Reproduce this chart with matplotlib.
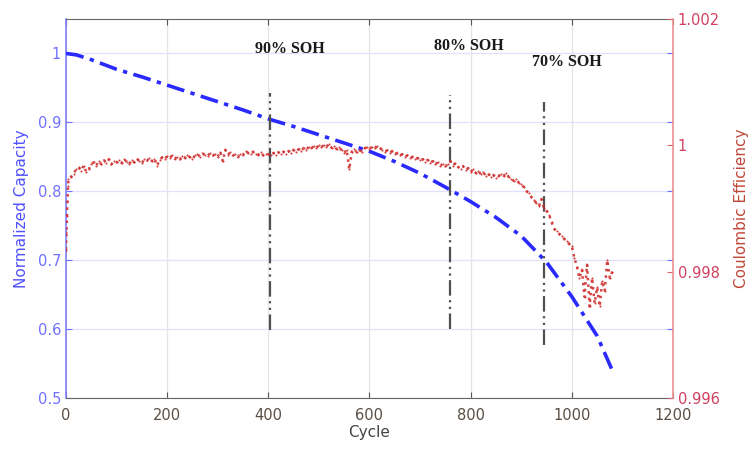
import numpy as np
import matplotlib
matplotlib.use("Agg")
import matplotlib.pyplot as plt

# capacity fade (left axis)
cap_cycles = [0, 20, 50, 100, 150, 200, 250, 300, 350, 400, 450, 500, 550, 600,
              650, 700, 750, 800, 850, 900, 950, 1000, 1050, 1080]
capacity = [1.0, 0.998, 0.991, 0.977, 0.966, 0.954, 0.942, 0.930, 0.918, 0.905,
            0.894, 0.882, 0.870, 0.858, 0.843, 0.826, 0.806, 0.785, 0.762, 0.735,
            0.697, 0.647, 0.590, 0.540]

# coulombic efficiency (right axis), first cycles then every 5 cycles
ce_head = [0.99835, 0.99862, 0.99888, 0.99912, 0.99935]
ce_rest = [
    # 5-100
    0.99946, 0.99950, 0.99955, 0.99962, 0.99965, 0.99960, 0.99968, 0.99958, 0.99962, 0.99970,
    0.99973, 0.99968, 0.99975, 0.99970, 0.99976, 0.99972, 0.99978, 0.99970, 0.99975, 0.99973,
    # 105-200
    0.99976, 0.99972, 0.99978, 0.99974, 0.99970, 0.99977, 0.99973, 0.99979, 0.99975, 0.99972,
    0.99978, 0.99976, 0.99980, 0.99975, 0.99979, 0.99968, 0.99976, 0.99981, 0.99978, 0.99983,
    # 205-300
    0.99980, 0.99984, 0.99979, 0.99982, 0.99978, 0.99983, 0.99980, 0.99985, 0.99981, 0.99978,
    0.99984, 0.99986, 0.99982, 0.99987, 0.99985, 0.99983, 0.99988, 0.99984, 0.99986, 0.99982,
    # 305-400
    0.99990, 0.99975, 0.99993, 0.99985, 0.99989, 0.99984, 0.99986, 0.99982, 0.99987, 0.99985,
    0.99991, 0.99988, 0.99986, 0.99990, 0.99987, 0.99985, 0.99989, 0.99984, 0.99987, 0.99986,
    # 405-500
    0.99984, 0.99988, 0.99985, 0.99989, 0.99986, 0.99990, 0.99987, 0.99991, 0.99988, 0.99993,
    0.99990, 0.99994, 0.99991, 0.99996, 0.99993, 0.99998, 0.99995, 0.99999, 0.99996, 1.00000,
    # 505-600
    0.99997, 1.00001, 0.99998, 1.00002, 0.99996, 0.99999, 0.99994, 0.99997, 0.99992, 0.99988,
    0.99993, 0.99962, 0.99990, 0.99994, 0.99989, 0.99993, 0.99990, 0.99995, 0.99997, 0.99994,
    # 605-700
    0.99998, 0.99995, 0.99999, 0.99996, 0.99993, 0.99990, 0.99992, 0.99988, 0.99991, 0.99986,
    0.99988, 0.99984, 0.99986, 0.99982, 0.99984, 0.99980, 0.99982, 0.99978, 0.99980, 0.99976,
    # 705-800
    0.99978, 0.99974, 0.99977, 0.99972, 0.99975, 0.99970, 0.99973, 0.99968, 0.99971, 0.99967,
    0.99970, 0.99975, 0.99968, 0.99972, 0.99966, 0.99963, 0.99967, 0.99961, 0.99964, 0.99958,
    # 805-900
    0.99962, 0.99956, 0.99960, 0.99954, 0.99957, 0.99952, 0.99955, 0.99950, 0.99953, 0.99949,
    0.99951, 0.99955, 0.99952, 0.99956, 0.99950, 0.99947, 0.99944, 0.99946, 0.99941, 0.99938,
    # 905-1000
    0.99934, 0.99928, 0.99924, 0.99918, 0.99914, 0.99908, 0.99904, 0.99915, 0.99900, 0.99896,
    0.99890, 0.99878, 0.99868, 0.99864, 0.99860, 0.99856, 0.99852, 0.99848, 0.99844, 0.99840,
    # 1005-1080
    0.99822, 0.99808, 0.99790, 0.99803, 0.99760, 0.99811, 0.99745, 0.99790, 0.99750, 0.99775,
    0.99745, 0.99785, 0.99770, 0.99818, 0.99790, 0.99800,
]
ce_values = ce_head + ce_rest
ce_cycles = list(range(0, 5)) + list(range(5, 5 * len(ce_rest) + 1, 5))

# SOH markers: cycle, bottom, top (left axis units), label, label position
soh_cycles = [403, 760, 945]
soh_bottom = [0.598, 0.600, 0.577]
soh_top = [0.942, 0.940, 0.930]
soh_labels = ["90% SOH", "80% SOH", "70% SOH"]
soh_label_x = [442, 797, 990]
soh_label_y = [1.006, 1.011, 0.987]

blue = "#2a2aff"
red = "#d03030"

fig = plt.figure(figsize=(7.53, 4.5), dpi=100)
ax = fig.add_axes([0.0876, 0.1156, 0.8062, 0.8422])
ax2 = ax.twinx()

ax.set_xlim(0, 1200)
ax.set_ylim(0.5, 1.05)
ax2.set_ylim(0.996, 1.002)

ax.set_xticks([0, 200, 400, 600, 800, 1000, 1200])
ax.set_yticks([0.5, 0.6, 0.7, 0.8, 0.9, 1.0])
ax.set_yticklabels(["0.5", "0.6", "0.7", "0.8", "0.9", "1"])
ax2.set_yticks([0.996, 0.998, 1.0, 1.002])
ax2.set_yticklabels(["0.996", "0.998", "1", "1.002"])

ax.grid(axis="x", color="#e4e4e4", lw=0.9)
ax.grid(axis="y", color="#e2e2ff", lw=0.9)
ax.set_axisbelow(True)

ax.plot(cap_cycles, capacity, color=blue, lw=2.6, dashes=(5, 1.8, 1.2, 1.8), zorder=4)
ax2.plot(ce_cycles, ce_values, color=red, lw=1.8, ls=":", marker=".", ms=3,
         mew=0, alpha=0.9, zorder=3)

for c, b, t in zip(soh_cycles, soh_bottom, soh_top):
    ax.plot([c, c], [b, t], color="#505050", lw=1.6, dashes=(7, 2, 1, 2, 1, 2), zorder=5)
for lab, x, y in zip(soh_labels, soh_label_x, soh_label_y):
    ax.text(x, y, lab, ha="center", va="center", fontsize=11.5, fontweight="bold",
            family="Liberation Serif", color="#1a1a1a")

ax.set_xlabel("Cycle", fontsize=11, color="#444444", labelpad=2)
ax.set_ylabel("Normalized Capacity", fontsize=11, color="#5050ff", labelpad=6)
ax2.set_ylabel("Coulombic Efficiency", fontsize=11, color="#c04838", labelpad=10)

ax.tick_params(axis="x", direction="in", top=True, length=4, colors="#555555",
               labelcolor="#5a4e44", labelsize=10.5, pad=7)
ax.tick_params(axis="y", direction="in", right=True, length=4, colors="#7070ff",
               labelcolor="#7070ff", labelsize=10.5)
ax2.tick_params(axis="y", direction="in", length=4, colors="#e06070",
                labelcolor="#d04060", labelsize=10.5)

ax.spines["left"].set_color("#8080ff")
ax.spines["left"].set_linewidth(1.2)
ax.spines["right"].set_visible(False)
ax.spines["top"].set_color("#666666")
ax.spines["bottom"].set_color("#666666")
ax2.spines["right"].set_color("#f09090")
ax2.spines["right"].set_linewidth(1.2)
ax2.spines["left"].set_visible(False)
ax2.spines["top"].set_visible(False)
ax2.spines["bottom"].set_visible(False)

fig.savefig("out.png", dpi=100)
